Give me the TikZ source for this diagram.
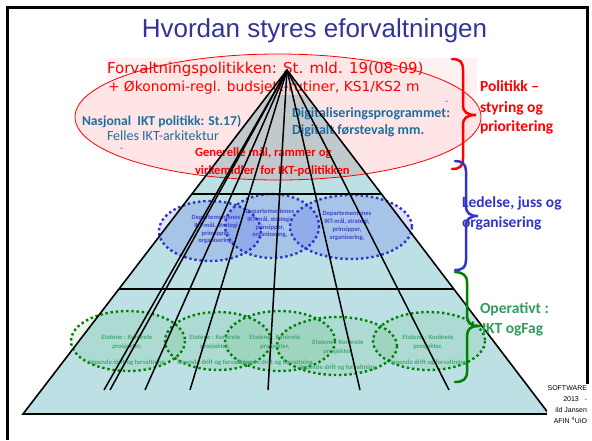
\documentclass[tikz,border=0pt]{standalone}
\usepackage{fontspec}
\setmainfont{Carlito}
\newfontfamily\arialf{Liberation Sans}
\newfontfamily\comicf{DejaVu Sans}
\usetikzlibrary{calc}
\definecolor{pyr}{RGB}{188,224,228}
\definecolor{titleblue}{RGB}{51,51,153}
\definecolor{tealtxt}{RGB}{31,110,160}
\definecolor{bluedot}{RGB}{51,51,204}
\definecolor{bluetxt}{RGB}{68,68,204}
\definecolor{greendot}{RGB}{0,128,0}
\definecolor{greentxt}{RGB}{70,170,115}
\definecolor{greenlbl}{RGB}{50,155,95}
\definecolor{boxpink}{RGB}{252,232,232}
\tikzset{
  txt/.style={inner sep=0pt, outer sep=0pt},
  blueell/.style={draw=bluedot, line width=2.4pt, dash pattern=on 2.4pt off 2.8pt, fill=blue, fill opacity=0.12},
  greenell/.style={draw=greendot, line width=2.4pt, dash pattern=on 2.4pt off 2.8pt, fill=green!60!black, fill opacity=0.08},
  bluetext/.style={txt, text=bluetxt, font=\bfseries\fontsize{6.5}{7.9}\selectfont, align=center},
  greentext/.style={txt, text=greentxt, font=\bfseries\fontsize{6.6}{8.3}\selectfont, align=center},
  fan/.style={line width=1.5pt, black},
  bracestroke/.style={line width=2.5pt, line cap=round},
  lbl/.style={txt, anchor=base west, font=\bfseries\fontsize{15.5}{18}\selectfont},
}
\begin{document}
\begin{tikzpicture}[x=1pt,y=-1pt]
\useasboundingbox (0,0) rectangle (592,440);
\fill[white] (0,0) rectangle (592,440);

% slide frame
\draw[line width=3pt] (7,440) -- (7,7) -- (587,7) -- (587,384);

% title
\node[txt, anchor=base, text=titleblue, font=\arialf\fontsize{26}{30}\selectfont] (title) at (314.5,37) {Hvordan styres eforvaltningen};

% pyramid fill
\coordinate (apex) at (287,70);
\coordinate (bl) at (23,414);
\coordinate (br) at (549,414);
\fill[pyr] (apex) -- (bl) -- (br) -- cycle;

% top ellipse and text box
\fill[red, fill opacity=0.1] (278,117) ellipse [x radius=203, y radius=63];
\fill[boxpink, fill opacity=0.6] (107,58) rectangle (477,95);
\draw[red, line width=0.8pt] (278,117) ellipse [x radius=203, y radius=63];

% top texts
\node[txt, anchor=base west, text=red, font=\comicf\fontsize{15}{18}\selectfont] (forv) at (107,73) {Forvaltningspolitikken: St. mld. 19(08-09)};
\node[txt, anchor=base west, text=red, font=\comicf\fontsize{13.8}{16}\selectfont] (okon) at (108,91) {+ Økonomi-regl. budsjett-rutiner, KS1/KS2 m};
\node[txt, anchor=base west, text=tealtxt, font=\bfseries\fontsize{13.6}{16}\selectfont] (nasj) at (82,125) {Nasjonal\ \ IKT politikk: St.17)};
\node[txt, anchor=base west, text=tealtxt, font=\fontsize{14}{16}\selectfont] (felles) at (107,140) {Felles IKT-arkitektur};
\node[txt, anchor=base west, text=tealtxt, font=\fontsize{10}{12}\selectfont] (dash1) at (120,151) {-};
\node[txt, anchor=base west, text=tealtxt, font=\fontsize{10}{12}\selectfont] (dash2) at (445,104) {-};
\node[txt, anchor=base west, text=tealtxt, font=\bfseries\fontsize{14}{16}\selectfont] (digi) at (292,117) {Digitaliseringsprogrammet:};
\node[txt, anchor=base west, text=tealtxt, font=\bfseries\fontsize{14}{16}\selectfont] (digi2) at (292,134) {Digitalt førstevalg mm.};
\node[txt, anchor=base west, text=red, font=\bfseries\fontsize{12.6}{15}\selectfont] (gen1) at (195,156) {Generelle mål, rammer og};
\node[txt, anchor=base west, text=red, font=\bfseries\fontsize{12.6}{15}\selectfont] (gen2) at (195,174) {virkemidler\ \ for IKT-politikken};

% middle: blue ellipses
\path[blueell] (210,231) ellipse [x radius=51, y radius=30];
\path[blueell] (272,226) ellipse [x radius=47, y radius=32];
\path[blueell] (351,227) ellipse [x radius=61, y radius=32];
\node[bluetext] (dep1) at (216,229.5) {Departementenes\\IKT-mål, strategi\\prinsipper,\\organisering,};
\node[bluetext] (dep2) at (270,223.5) {Departementenes\\IKT-mål, strategi,\\prinsipper,\\organisering,};
\node[bluetext] (dep3) at (347,225.8) {Departementenes\\IKT-mål, strategi,\\prinsipper,\\organisering,};

% bottom: green ellipses
\path[greenell] (128,341) ellipse [x radius=57, y radius=30];
\path[greenell] (218,341) ellipse [x radius=53, y radius=29];
\path[greenell] (280,341) ellipse [x radius=55, y radius=30];
\path[greenell] (337,346) ellipse [x radius=60, y radius=29];
\path[greenell] (429,341) ellipse [x radius=56, y radius=29];
\node[greentext] (et1) at (127,350.5) {Etatene : Konkrete\\prosjekter,\\[8.3pt]løpende drift og forvaltning};
\node[greentext] (et2) at (215,350.5) {Etatene : Konkrete\\prosjekter,\\[8.3pt]løpende drift og forvaltning};
\node[greentext] (et3) at (275,350.5) {Etatene : Konkrete\\prosjekter,\\[8.3pt]løpende drift og forvaltning};
\node[greentext] (et4) at (338,355.5) {Etatene : Konkrete\\prosjekter,\\[8.3pt]løpende drift og forvaltning};
\node[greentext] (et5) at (428,350.5) {Etatene : Konkrete\\prosjekter,\\[8.3pt]løpende drift og forvaltning};

% pyramid lines
\coordinate (h1l) at ($(apex)!0.3605!(bl)$);
\coordinate (h1r) at ($(apex)!0.3605!(br)$);
\coordinate (h2l) at ($(apex)!0.6366!(bl)$);
\coordinate (h2r) at ($(apex)!0.6366!(br)$);
\draw[fan] (h1l) -- (h1r);
\draw[fan] (h2l) -- (h2r);
\foreach \xe/\nm in {104/f1,110/f2,145/f3,190/f4,268/f5,360/f6,449/f7}{
  \coordinate (\nm) at (\xe,390);
  \draw[fan] (apex) -- (\nm);
}
\draw[line width=1.6pt, line join=miter] (apex) -- (bl) -- (br) -- cycle;

% braces
\draw[bracestroke, red] (452,59) .. controls (460,59) and (463,62) .. (463,70) -- (463,105) .. controls (463,112) and (467,115) .. (476,115) .. controls (467,115) and (463,118) .. (463,125) -- (463,158) .. controls (463,166) and (460,169) .. (452,169);
\draw[bracestroke, bluedot] (455,161) .. controls (462,161) and (466,164) .. (466,171) -- (466,206) .. controls (466,213) and (470,216) .. (478,216) .. controls (470,216) and (466,219) .. (466,226) -- (466,260) .. controls (466,267) and (463,270) .. (455,270);
\draw[bracestroke, greendot] (455,272) .. controls (462,272) and (467,275) .. (467,282) -- (467,316) .. controls (467,323) and (471,326) .. (478,326) .. controls (471,326) and (467,329) .. (467,336) -- (467,372) .. controls (467,379) and (463,382) .. (455,382);

% brace labels
\node[lbl, text=red] (pol1) at (480,91.7) {Politikk –};
\node[lbl, text=red] (pol2) at (480,112) {styring og};
\node[lbl, text=red] (pol3) at (480,131) {prioritering};
\node[lbl, text=bluedot] (led1) at (462,207) {Ledelse, juss og};
\node[lbl, text=bluedot] (led2) at (462,227) {organisering};
\node[lbl, text=greenlbl] (op1) at (480,313) {Operativt :};
\node[lbl, text=greenlbl] (op2) at (482,333) {IKT ogFag};

% footer
\node[txt, anchor=north east, fill=white, inner sep=1pt, align=right, font=\arialf\fontsize{7}{11}\selectfont] (foot) at (588,385) {SOFTWARE\\2013\ \ \ -\\ild Jansen\\AFIN \textsuperscript{4}UiO};
\end{tikzpicture}
\end{document}
